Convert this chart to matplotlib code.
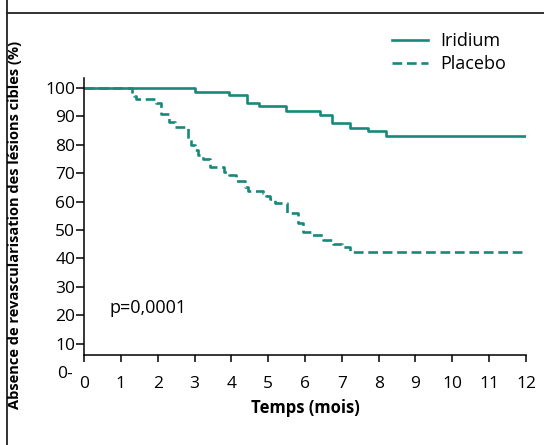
import matplotlib
matplotlib.use('Agg')
import matplotlib.pyplot as plt
from matplotlib.lines import Line2D

plt.rcParams['font.family'] = ['Open Sans', 'DejaVu Sans']
plt.rcParams['lines.scale_dashes'] = False

# Courbes de Kaplan-Meier
iridium_t = [0, 3.0, 3.95, 4.43, 4.76, 5.49, 6.41, 6.74, 7.23, 7.71, 8.19, 12]
iridium_s = [100, 98.7, 97.4, 94.6, 93.6, 92.0, 90.5, 87.8, 86.0, 84.9, 83.1, 83.1]

placebo_t = [0, 1.30, 1.35, 1.40, 1.95, 2.09, 2.32, 2.48, 2.82, 2.90, 3.0, 3.1,
             3.23, 3.41, 3.80, 3.95, 4.14, 4.36, 4.45, 4.86, 4.95, 5.05, 5.18,
             5.5, 5.82, 5.95, 6.18, 6.5, 6.77, 7.0, 7.23, 12]
placebo_s = [100, 98, 97, 96, 94.8, 91, 88, 86.2, 82, 80, 78, 76.5,
             75, 72, 70.5, 69.5, 67.3, 65, 63.8, 63, 62, 61, 59.4,
             55.9, 52.4, 49.4, 48.2, 46.5, 45.1, 43.9, 42.2, 42.2]

x_ticks = list(range(0, 13))
y_ticks = list(range(10, 101, 10))

teal = '#168a78'

fig = plt.figure(figsize=(5.44, 4.45), dpi=100)
ax = fig.add_axes([84/544, 1 - 355/445, 442/544, 277/445])

ax.step(iridium_t, iridium_s, where='post', color=teal, lw=1.9, label='Iridium')
ax.step(placebo_t, placebo_s, where='post', color=teal, lw=1.9,
        dashes=(7, 3.4), label='Placebo')

ax.set_xlim(0, 12)
ax.set_ylim(6.0, 103.5)
ax.set_xticks(x_ticks)
ax.set_yticks(y_ticks)
ax.spines['top'].set_visible(False)
ax.spines['right'].set_visible(False)
for sp in ['left', 'bottom']:
    ax.spines[sp].set_linewidth(1.1)
ax.tick_params(axis='x', direction='out', length=5, width=1.1, pad=10, labelsize=12.5)
ax.tick_params(axis='y', direction='out', length=5.5, width=1.1, pad=0.8, labelsize=12.5)

# le "0-" sous l'axe
ax.text(-0.025, -0.8, '0-', transform=ax.get_yaxis_transform(), ha='right',
        va='center', fontsize=12.5, clip_on=False)

ax.set_xlabel('Temps (mois)', fontsize=12, fontweight='bold', labelpad=5)
fig.text(15/544, 1 - 225/445, 'Absence de revascularisation des lésions cibles (%)',
         rotation=90, ha='center', va='center', fontsize=10.5, fontweight='bold')

ax.text(0.68, 22.5, 'p=0,0001', fontsize=13, va='center')

ax.legend(loc='upper left', bbox_to_anchor=(392/544, 1 - 32/445),
          bbox_transform=fig.transFigure, frameon=False, fontsize=13,
          handlelength=2.0, handletextpad=0.65, labelspacing=0.3,
          borderpad=0, borderaxespad=0)

# cadre de la figure
fig.add_artist(Line2D([7/544, 1], [1 - 13/445, 1 - 13/445], color='#222222', lw=1.3))
fig.add_artist(Line2D([7/544, 7/544], [0, 1], color='#222222', lw=1.3))

fig.savefig('out.png', dpi=100)
